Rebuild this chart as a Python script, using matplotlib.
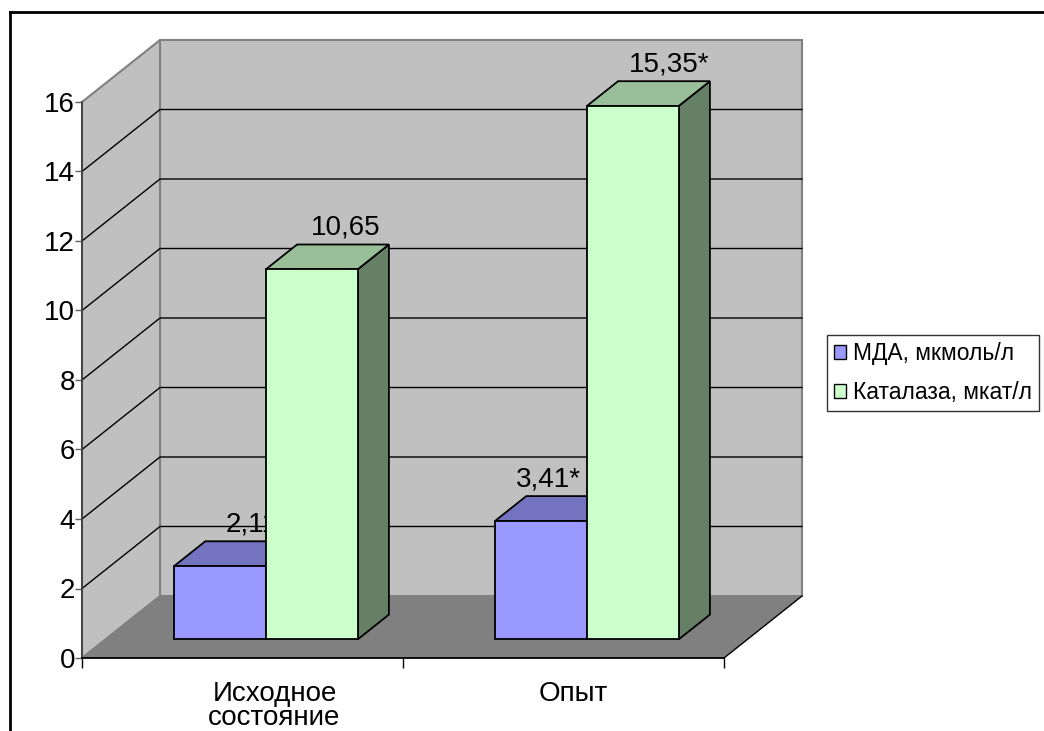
import matplotlib.pyplot as plt
from matplotlib.patches import Polygon, Patch
from matplotlib.lines import Line2D

plt.rcParams['font.family'] = ['Liberation Sans', 'DejaVu Sans']

# data
categories = ['Исходное\nсостояние', 'Опыт']
series_names = ['МДА, мкмоль/л', 'Каталаза, мкат/л']
mda = [2.11, 3.41]
catalase = [10.65, 15.35]
mda_labels = ['2,11', '3,41*']
catalase_labels = ['10,65', '15,35*']
yticks = [0, 2, 4, 6, 8, 10, 12, 14, 16]

series = [mda, catalase]
series_labels = [mda_labels, catalase_labels]
front_colors = ['#9999FF', '#CCFFCC']
top_colors = ['#7373BF', '#99BF99']
side_colors = ['#4D4D80', '#668066']

W, H = 1044, 731
fig = plt.figure(figsize=(W / 100, H / 100), dpi=100)
# front plane of the pseudo-3d box
ax = fig.add_axes([82 / W, (H - 658) / H, 642 / W, 556 / H])
ax.set_xlim(-0.5, 1.5)
ax.set_ylim(0, 16)
ax.set_facecolor('none')

# depth shift of the box (pixels) converted to data units
depth_px = (78, 62)
DX = depth_px[0] / (642 / 2)
DY = depth_px[1] / (556 / 16)


def p(x, y, d):
    return (x + d * DX, y + d * DY)


x0, x1 = -0.5, 1.5
ymax = yticks[-1]
wall_kw = dict(clip_on=False, zorder=1)
ax.add_patch(Polygon([p(x0, 0, 1), p(x1, 0, 1), p(x1, ymax, 1), p(x0, ymax, 1)],
                     fc='#C0C0C0', ec='#808080', lw=1.5, **wall_kw))
ax.add_patch(Polygon([p(x0, 0, 0), p(x0, 0, 1), p(x0, ymax, 1), p(x0, ymax, 0)],
                     fc='#C0C0C0', ec='#808080', lw=1.5, **wall_kw))
ax.add_patch(Polygon([p(x0, 0, 0), p(x1, 0, 0), p(x1, 0, 1), p(x0, 0, 1)],
                     fc='#808080', ec='none', clip_on=False, zorder=1.2))

# gridlines on side and back walls
for v in yticks[1:-1]:
    pts = [p(x0, v, 0), p(x0, v, 1), p(x1, v, 1)]
    ax.plot([q[0] for q in pts], [q[1] for q in pts], color='black', lw=1,
            clip_on=False, zorder=1.5)

# right edge of the floor
pts = [p(x1, 0, 0), p(x1, 0, 1)]
ax.plot([q[0] for q in pts], [q[1] for q in pts], color='black', lw=1,
        clip_on=False, zorder=1.5)

# bars
w = 0.286
d0, d1 = 0.3, 0.7
label_dx = [[0, 3], [-24, 5]]
for i in range(len(categories)):
    for s, vals in enumerate(series):
        v = vals[i]
        xl = i - w + s * w
        xr = xl + w
        z = 3 + i * 4 + s * 2
        kw = dict(ec='black', lw=1.3, clip_on=False, zorder=z, joinstyle='miter')
        ax.add_patch(Polygon([p(xr, 0, d0), p(xr, 0, d1), p(xr, v, d1), p(xr, v, d0)],
                             fc=side_colors[s], **kw))
        ax.add_patch(Polygon([p(xl, v, d0), p(xr, v, d0), p(xr, v, d1), p(xl, v, d1)],
                             fc=top_colors[s], **kw))
        ax.add_patch(Polygon([p(xl, 0, d0), p(xr, 0, d0), p(xr, v, d0), p(xl, v, d0)],
                             fc=front_colors[s], **kw))
        ax.annotate(series_labels[s][i], xy=p(xl + w / 2, v, d1),
                    xytext=(label_dx[i][s], 10), textcoords='offset pixels',
                    ha='center', va='baseline', fontsize=20, zorder=z + 1,
                    annotation_clip=False)

# axes
for side in ['top', 'right']:
    ax.spines[side].set_visible(False)
ax.spines['left'].set_color('#404040')
ax.spines['left'].set_linewidth(1.3)
ax.spines['bottom'].set_color('black')
ax.spines['bottom'].set_linewidth(1.3)
for sp in ax.spines.values():
    sp.set_zorder(2)
ax.set_yticks(yticks)
ax.tick_params(axis='y', length=5, width=1, color='#606060', pad=0, labelsize=20)
ax.set_xticks([-0.5, 0.5, 1.5])
ax.set_xticklabels([])
ax.tick_params(axis='x', length=7.5, width=1, color='black')

cat_dx = [32, 10]
for i, c in enumerate(categories):
    ax.annotate(c, xy=(i, 0), xytext=(cat_dx[i], -23), textcoords='offset pixels',
                ha='center', va='top', fontsize=20, linespacing=0.92,
                annotation_clip=False)

# legend
handles = [Patch(fc=front_colors[s], ec='black', lw=1) for s in range(2)]
leg = ax.legend(handles, series_names, loc='center left',
                bbox_to_anchor=(827 / W, 1 - 373 / H), bbox_transform=fig.transFigure,
                fontsize=16.5, frameon=True, fancybox=False, edgecolor='black',
                handlelength=0.55, handleheight=0.55, handletextpad=0.3,
                borderpad=0.3, labelspacing=0.7, borderaxespad=0)
leg.get_frame().set_linewidth(1)

# outer frame
fig.add_artist(Line2D([10 / W, 1], [1 - 12 / H, 1 - 12 / H], color='black', lw=2))
fig.add_artist(Line2D([10 / W, 10 / W], [0, 1 - 12 / H], color='black', lw=2))

fig.savefig('out.png', dpi=100)
